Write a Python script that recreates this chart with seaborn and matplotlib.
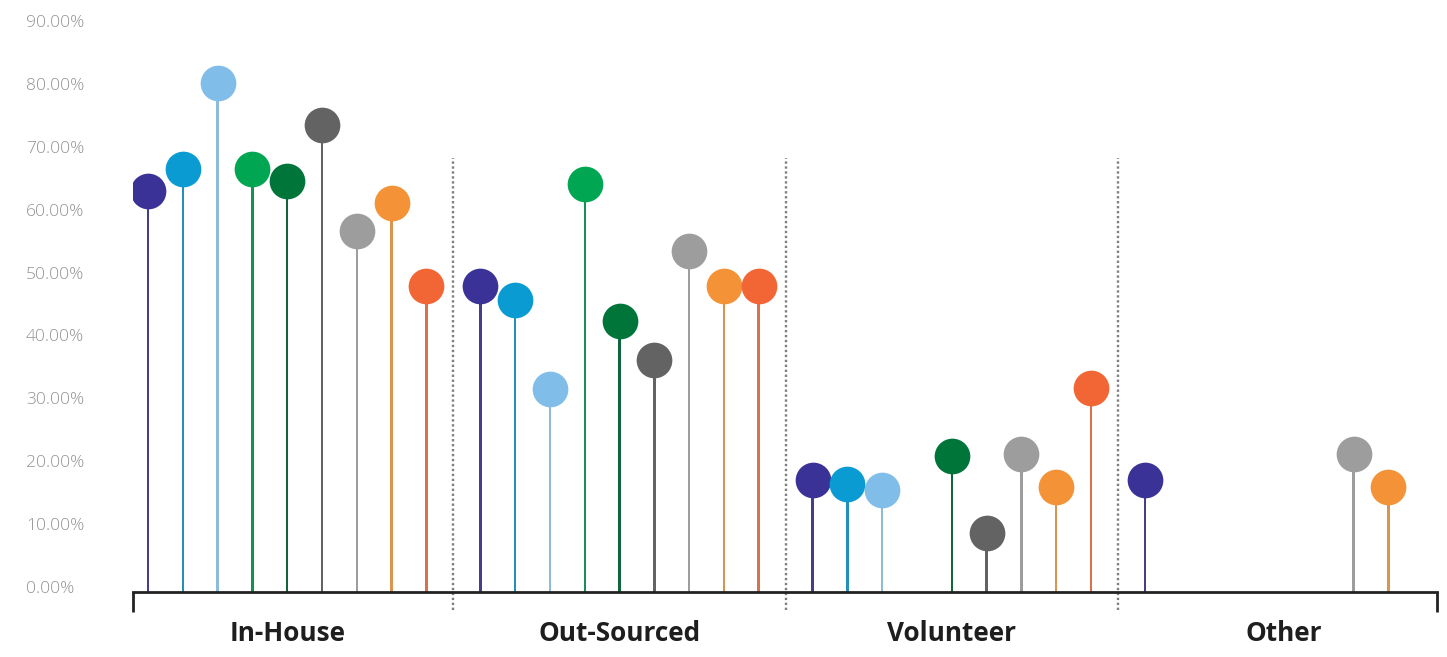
import numpy as np
import pandas as pd
import matplotlib
matplotlib.use("Agg")
import matplotlib.pyplot as plt
from matplotlib.ticker import PercentFormatter
import seaborn as sns

# Staffing models (x categories) and the nine respondent series (hue)
categories = ["In-House", "Out-Sourced", "Volunteer", "Other"]
series = ["S1", "S2", "S3", "S4", "S5", "S6", "S7", "S8", "S9"]
series_colors = ["#3A3297", "#0A9BD3", "#80BDE8", "#00A651", "#00753A",
                 "#636363", "#9D9D9D", "#F39236", "#F26535"]

# Share of respondents per series, one list per category (NaN = no response)
in_house    = [0.629, 0.664, 0.801, 0.664, 0.645, 0.734, 0.566, 0.610, 0.479]
out_sourced = [0.479, 0.456, 0.315, 0.641, 0.423, 0.361, 0.534, 0.478, 0.479]
volunteer   = [0.170, 0.164, 0.155, np.nan, 0.209, 0.087, 0.212, 0.159, 0.316]
other       = [0.170, np.nan, np.nan, np.nan, np.nan, np.nan, 0.212, 0.159, np.nan]

y_ticks = [0.0, 0.1, 0.2, 0.3, 0.4, 0.5, 0.6, 0.7, 0.8, 0.9]

values = [in_house, out_sourced, volunteer, other]
df = pd.DataFrame(
    [(c, s, v) for c, vals in zip(categories, values) for s, v in zip(series, vals)],
    columns=["category", "series", "share"],
)

sns.set_theme(style="white")
plt.rcParams["font.family"] = ["Open Sans", "DejaVu Sans"]

W, H, DPI = 1447, 657, 100
fig = plt.figure(figsize=(W / DPI, H / DPI), dpi=DPI)
ax = fig.add_axes([133 / W, (H - 592.3) / H, (1437 - 133) / W, (592.3 - 10) / H])

palette = dict(zip(series, series_colors))
group_width = 0.942
span = group_width * (len(series) - 1) / len(series)
y_low = -0.0079

# stems: very thin dodged bars rising from the baseline
sns.barplot(data=df, x="category", y="share", hue="series",
            order=categories, hue_order=series, palette=palette,
            width=group_width, gap=0.93, errorbar=None, legend=False,
            linewidth=0, bottom=y_low, ax=ax)

# lollipop heads
sns.pointplot(data=df, x="category", y="share", hue="series",
              order=categories, hue_order=series, palette=palette,
              dodge=span, linestyle="none", markers="o", errorbar=None,
              markersize=25.7, markeredgewidth=0, legend=False, ax=ax)

ax.set_xlim(-0.464, 3.46)
ax.set_ylim(y_low, 0.9 + (587.3 - 10 - 9 * 62.96) / 629.6)
ax.yaxis.set_major_locator(plt.FixedLocator(y_ticks))
ax.yaxis.set_major_formatter(PercentFormatter(xmax=1, decimals=2))

for side in ["top", "right", "left"]:
    ax.spines[side].set_visible(False)
ax.spines["bottom"].set_color("#222222")
ax.spines["bottom"].set_linewidth(2.0)

ax.tick_params(axis="y", length=0, pad=77, labelsize=12.6, labelcolor="#939393")
for lbl in ax.get_yticklabels():
    lbl.set_horizontalalignment("left")
    lbl.set_fontweight("light")
ax.tick_params(axis="x", length=0, pad=20, labelsize=18.8, labelcolor="#1E1E1E")
for lbl in ax.get_xticklabels():
    lbl.set_fontweight("bold")
ax.set_xlabel("")
ax.set_ylabel("")

# bracket ends of the baseline
blend = ax.get_xaxis_transform()
for xe in ax.get_xlim():
    ax.plot([xe, xe], [0, -0.034], transform=blend, color="#222222",
            lw=2.0, clip_on=False, solid_capstyle="butt")

# dotted separators between categories
for i in range(len(categories) - 1):
    ax.plot([i + 0.5, i + 0.5], [-0.031, 0.746], transform=blend,
            color="#7F7F7F", lw=1.7, linestyle=(0, (1, 1.1)), clip_on=False)

fig.savefig("out.png", dpi=DPI, facecolor="white")
